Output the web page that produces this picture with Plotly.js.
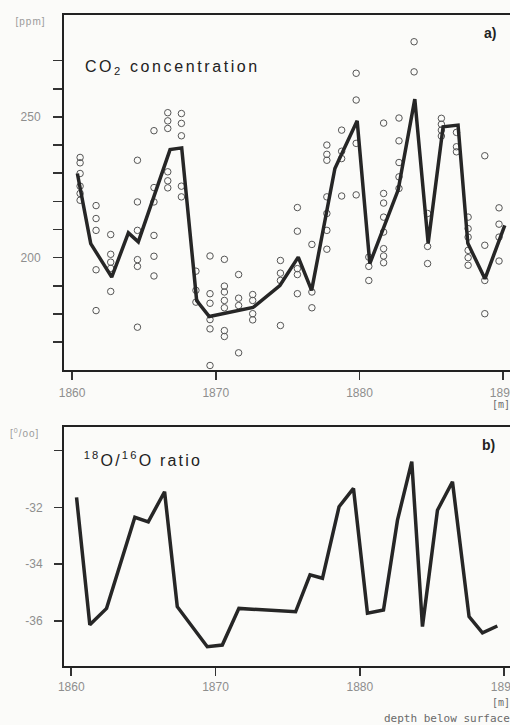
<!DOCTYPE html>
<html>
<head>
<meta charset="utf-8">
<script src="https://cdn.plot.ly/plotly-3.0.1.min.js"></script>
<style>
  html, body { margin: 0; padding: 0; background: #fbfbf9; overflow: hidden; width: 510px; height: 725px; }
  #chart { width: 530px; height: 725px; }
  g.annotation[data-index="1"] text { letter-spacing: 2.6px; }
  g.annotation[data-index="5"] text { letter-spacing: 2.2px; }
  g.annotation[data-index="0"] text, g.annotation[data-index="4"] text { letter-spacing: 1px; }
</style>
</head>
<body>
<div id="chart"></div>
<script>
// ---- Panel a) CO2 concentration [ppm] vs depth below surface [m] ----
const co2LineDepth = [1860.37, 1861.30, 1862.76, 1863.92, 1864.61, 1866.82, 1867.63, 1868.67, 1869.55, 1872.59,
                      1874.46, 1875.74, 1876.67, 1878.29, 1879.84, 1880.72, 1882.69, 1883.85, 1884.78, 1885.82,
                      1886.86, 1887.54, 1888.73, 1890.11];
const co2LineValue = [229.9, 205.0, 193.1, 208.8, 205.6, 238.4, 239.0, 184.8, 179.1, 182.3,
                      190.1, 200.2, 188.4, 231.7, 248.6, 197.9, 224.0, 256.3, 205.1, 246.5,
                      247.1, 205.1, 192.5, 211.5];

// individual measurements, grouped by sample depth
const sampleDepth = [1860.56, 1861.67, 1862.69, 1864.55, 1865.70, 1866.66, 1867.61, 1868.62, 1869.60, 1870.60,
                     1871.59, 1872.57, 1874.50, 1875.68, 1876.69, 1877.73, 1878.76, 1879.77, 1880.65, 1881.68,
                     1882.75, 1883.80, 1884.74, 1885.70, 1886.75, 1887.56, 1888.72, 1889.71];
const sampleCO2 = [
  [235.6, 233.7, 229.9, 225.4, 222.8, 220.4],
  [218.5, 213.9, 209.7, 195.7, 181.2],
  [208.2, 201.2, 198.4, 196.2, 188.0],
  [234.6, 219.8, 209.7, 199.3, 196.9, 175.3],
  [245.1, 224.9, 219.8, 207.9, 200.5, 193.5],
  [251.5, 248.6, 245.9, 230.5, 227.3, 224.8],
  [251.2, 247.7, 243.3, 225.4, 221.6],
  [195.2, 188.4, 184.2],
  [200.6, 187.2, 183.8, 178.0, 174.7, 161.7],
  [199.4, 189.9, 187.8, 184.8, 182.2, 174.1, 172.0],
  [194.0, 185.6, 183.0, 166.2],
  [186.9, 184.8, 180.1, 177.9],
  [199.0, 194.5, 191.9, 175.9],
  [217.8, 209.4, 196.1, 194.0, 187.2],
  [204.7, 187.8, 182.2],
  [240.0, 236.7, 234.6, 221.6, 215.7, 209.7, 203.0],
  [245.3, 237.8, 235.2, 221.9],
  [265.5, 256.0, 240.6, 222.3],
  [200.2, 196.9, 191.9],
  [247.8, 222.8, 219.4, 214.4, 209.1, 203.2, 200.6, 198.2],
  [249.6, 241.5, 233.8, 228.7, 224.6],
  [276.7, 266.0],
  [215.7, 204.0, 197.9],
  [249.5, 247.4, 245.3, 243.2],
  [244.5, 239.4, 237.6],
  [214.4, 210.3, 207.3, 202.6, 200.0, 197.3],
  [236.2, 204.4, 191.9, 180.1],
  [217.7, 211.9, 207.3, 198.8]
];

// ---- Panel b) 18O/16O ratio [per mil] ----
const o18Depth = [1860.37, 1861.29, 1862.45, 1864.41, 1865.34, 1866.47, 1867.35, 1869.43, 1870.47, 1871.62,
                  1875.55, 1876.55, 1877.41, 1878.56, 1879.56, 1880.53, 1881.64, 1882.61, 1883.60, 1884.34,
                  1885.38, 1886.42, 1887.57, 1888.50, 1889.53];
const o18Value = [-31.65, -36.14, -35.56, -32.35, -32.51, -31.45, -35.50, -36.91, -36.85, -35.56,
                  -35.68, -34.38, -34.50, -31.98, -31.33, -35.73, -35.62, -32.45, -30.39, -36.20,
                  -32.10, -31.10, -35.85, -36.42, -36.18];

// ---- ticks ----
const depthTicks = [1860, 1870, 1880, 1890];
const co2TickVals = [170, 180, 190, 200, 210, 220, 230, 240, 250, 260, 270];
const co2TickText = ['', '', '', '200', '', '', '', '', '250', '', ''];
const o18TickVals = [-36, -34, -32, -30];
const o18TickText = ['-36', '-34', '-32', ''];

// flatten samples
const sx = [], sy = [];
sampleDepth.forEach((d, i) => sampleCO2[i].forEach(v => { sx.push(d); sy.push(v); }));

const ink = '#262626';
const gray = '#8e8e8e';
const tickFont = {family: 'Liberation Sans, Arial, sans-serif', size: 12, color: gray};

const traces = [
  {x: sx, y: sy, xaxis: 'x', yaxis: 'y', type: 'scatter', mode: 'markers',
   marker: {symbol: 'circle-open', size: 6.5, color: '#555', line: {width: 1, color: '#555'}},
   hoverinfo: 'skip', showlegend: false},
  {x: co2LineDepth, y: co2LineValue, xaxis: 'x', yaxis: 'y', type: 'scatter', mode: 'lines',
   line: {color: ink, width: 3.5}, showlegend: false},
  {x: o18Depth, y: o18Value, xaxis: 'x2', yaxis: 'y2', type: 'scatter', mode: 'lines',
   line: {color: ink, width: 3.5}, showlegend: false}
];

const axisCommon = {
  showline: true, linewidth: 2, linecolor: '#222', mirror: true,
  showgrid: false, zeroline: false,
  ticks: 'outside', tickwidth: 1.5, tickcolor: '#333',
  tickfont: tickFont, tickmode: 'array'
};

// paper-coordinate helpers (plot area: x 64..520 px, y 15..666 px)
const px = p => (p - 64) / 456;
const py = p => (666 - p) / 651;

const annFontMono = {family: 'DejaVu Sans Mono, monospace', size: 11, color: '#6a6a6a'};
const annotations = [
  {text: '[ppm]', x: px(30), y: py(22), xref: 'paper', yref: 'paper', showarrow: false,
   xanchor: 'center', yanchor: 'middle', font: {family: 'Liberation Sans, Arial', size: 10, color: '#9a9a9a'}},
  {text: 'CO<sub>2</sub> concentration', x: px(172), y: py(67), xref: 'paper', yref: 'paper', showarrow: false,
   xanchor: 'center', yanchor: 'middle', font: {family: 'Liberation Sans, Arial', size: 16, color: '#222'}},
  {text: 'a)', x: px(490), y: py(33), xref: 'paper', yref: 'paper', showarrow: false,
   xanchor: 'center', yanchor: 'middle', font: {family: 'Liberation Sans, Arial', size: 14, color: '#222', weight: 'bold'}},
  {text: '[m]', x: px(512), y: py(404), xref: 'paper', yref: 'paper', showarrow: false,
   xanchor: 'right', yanchor: 'middle', font: {family: 'DejaVu Sans Mono, monospace', size: 10, color: '#6a6a6a'}},
  {text: '[<sup>0</sup>/oo]', x: px(25), y: py(433), xref: 'paper', yref: 'paper', showarrow: false,
   xanchor: 'center', yanchor: 'middle', font: {family: 'Liberation Sans, Arial', size: 10, color: '#9a9a9a'}},
  {text: '<sup>18</sup>O/<sup>16</sup>O ratio', x: px(143), y: py(459), xref: 'paper', yref: 'paper', showarrow: false,
   xanchor: 'center', yanchor: 'middle', font: {family: 'Liberation Sans, Arial', size: 16, color: '#222'}},
  {text: 'b)', x: px(488), y: py(445), xref: 'paper', yref: 'paper', showarrow: false,
   xanchor: 'center', yanchor: 'middle', font: {family: 'Liberation Sans, Arial', size: 14, color: '#222', weight: 'bold'}},
  {text: '[m]', x: px(512), y: py(702), xref: 'paper', yref: 'paper', showarrow: false,
   xanchor: 'right', yanchor: 'middle', font: {family: 'DejaVu Sans Mono, monospace', size: 10, color: '#6a6a6a'}},
  {text: 'depth below surface', x: px(512), y: py(718), xref: 'paper', yref: 'paper', showarrow: false,
   xanchor: 'right', yanchor: 'middle', font: annFontMono}
];

const layout = {
  width: 530, height: 725,
  margin: {l: 64, r: 10, t: 15, b: 59},
  paper_bgcolor: '#fbfbf9', plot_bgcolor: '#fbfbf9',
  showlegend: false,
  xaxis: Object.assign({}, axisCommon, {anchor: 'y', domain: [0, 1], range: [1859.44, 1891.17],
    tickvals: depthTicks, ticktext: depthTicks.map(String), ticklen: 8, ticklabelstandoff: 3}),
  yaxis: Object.assign({}, axisCommon, {anchor: 'x', domain: [0.4547, 1], range: [160.1, 286.2],
    tickvals: co2TickVals, ticktext: co2TickText, ticklen: 9, ticklabelstandoff: 10}),
  xaxis2: Object.assign({}, axisCommon, {anchor: 'y2', domain: [0, 1], range: [1859.5, 1891.1],
    tickvals: depthTicks, ticktext: depthTicks.map(String), ticklen: 8, ticklabelstandoff: 1}),
  yaxis2: Object.assign({}, axisCommon, {anchor: 'x2', domain: [0, 0.3671], range: [-37.59, -29.17],
    tickvals: o18TickVals, ticktext: o18TickText, ticklen: 8, ticklabelstandoff: 9}),
  annotations: annotations
};

Plotly.newPlot('chart', traces, layout, {displayModeBar: false, staticPlot: true});
</script>
</body>
</html>
